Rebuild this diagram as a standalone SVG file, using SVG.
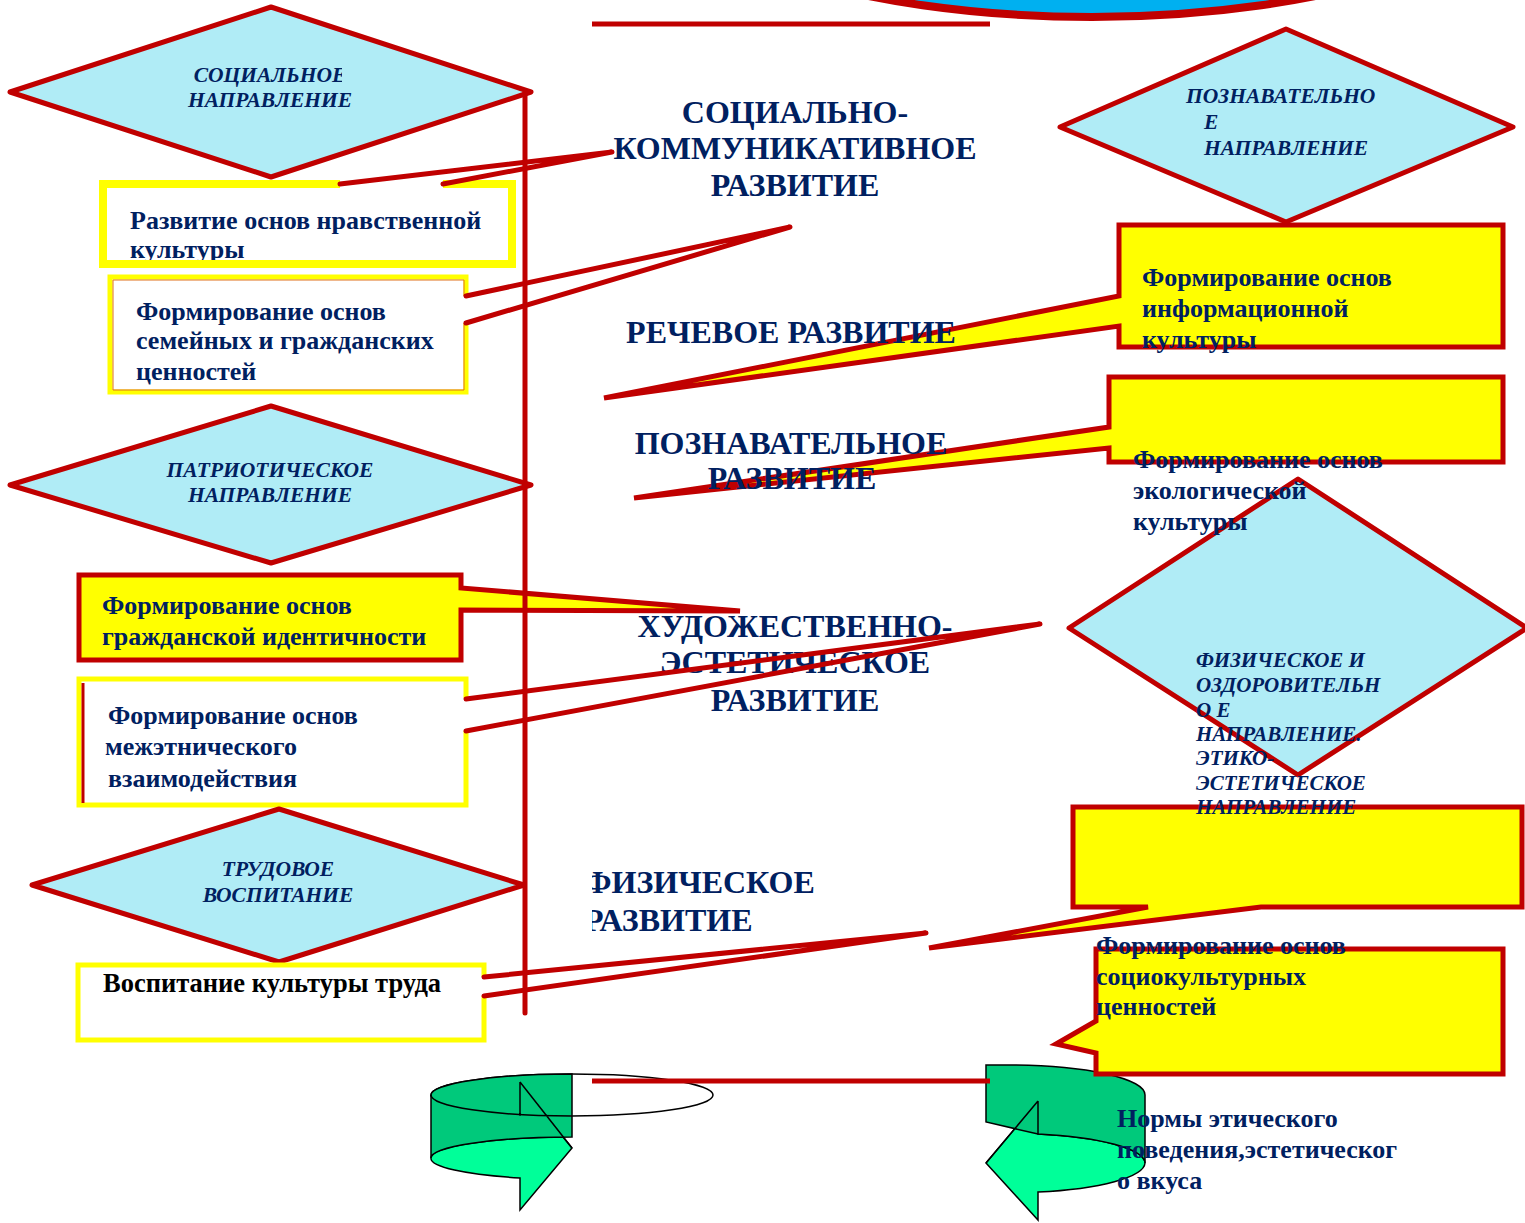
<svg xmlns="http://www.w3.org/2000/svg" width="1525" height="1223" viewBox="0 0 1525 1223">
<defs>
<style>
.dia{fill:#B0ECF6;stroke:#C00000;stroke-width:5;stroke-linejoin:round}
.yb{fill:#FFFF00;stroke:#C00000;stroke-width:5;stroke-linejoin:miter}
.wb{fill:#FFFFFF;stroke:#FFFF00;stroke-width:5;stroke-linejoin:miter}
.ln{fill:none;stroke:#C00000;stroke-width:5;stroke-linecap:round;stroke-linejoin:round}
.t{font-family:"Liberation Serif","Times New Roman",serif;font-weight:bold;fill:#002060;font-size:26px}
.h{font-size:32px;text-anchor:middle}
.di{font-style:italic;font-size:21.5px}
.dc{text-anchor:middle}
.g1{fill:#00C97B;stroke:#000;stroke-width:1.5}
.g2{fill:#00FF99;stroke:#000;stroke-width:1.5}
.bk{fill:none;stroke:#000;stroke-width:1.5}
</style>
<clipPath id="clipSoc"><rect x="150" y="55" width="192" height="35"/></clipPath>
<clipPath id="clipFiz"><rect x="592" y="850" width="400" height="100"/></clipPath>
</defs>
<rect width="1525" height="1223" fill="#FFFFFF"/>

<g id="top-ellipse">
<ellipse cx="1092" cy="-150" rx="460" ry="167" fill="#00B0F0" stroke="#C00000" stroke-width="8"/>
</g>

<!-- left side nodes -->
<g id="social-dir">
<polygon class="dia" points="10,92 271,7 531,92 271,177"/>
<text class="t di dc" x="270" y="82" clip-path="url(#clipSoc)">СОЦИАЛЬНОЕ</text>
<text class="t di dc" x="270" y="107">НАПРАВЛЕНИЕ</text>
</g>
<g id="box-moral">
<text class="t" x="130" y="229">Развитие основ нравственной</text>
<text class="t" x="130" y="258">культуры</text>
<path d="M340,184 L103,184 L103,264 L512,264 L512,184 L443,184" fill="none" stroke="#FFFF00" stroke-width="8"/>
</g>
<g id="box-family">
<path class="wb" d="M466,296 L466,277 L110,277 L110,392 L466,392 L466,323"/>
<path d="M464,296 L464,280 L113,280 L113,390 L464,390 L464,323" fill="none" stroke="#E0701A" stroke-width="1"/>
<text class="t" x="136" y="320">Формирование основ</text>
<text class="t" x="136" y="349">семейных и гражданских</text>
<text class="t" x="136" y="380">ценностей</text>
</g>
<g id="patriot-dir">
<polygon class="dia" points="10,485 271,406 531,485 271,563"/>
<text class="t di dc" x="270" y="477">ПАТРИОТИЧЕСКОЕ</text>
<text class="t di dc" x="270" y="502">НАПРАВЛЕНИЕ</text>
</g>
<g id="box-civic">
<path class="yb" d="M79,575 L461,575 L461,588 L740,611 L461,610 L461,660 L79,660 Z"/>
<text class="t" x="102" y="614">Формирование основ</text>
<text class="t" x="102" y="645">гражданской идентичности</text>
</g>
<g id="box-ethnic">
<path class="wb" d="M466,698 L466,679 L79,679 L79,805 L466,805 L466,731"/>
<line x1="83" y1="683" x2="83" y2="803" stroke="#C00000" stroke-width="3"/>
<text class="t" x="108" y="724">Формирование основ</text>
<text class="t" x="105" y="755">межэтнического</text>
<text class="t" x="108" y="787">взаимодействия</text>
</g>
<g id="labor-dir">
<polygon class="dia" points="32,885 279,809 524,885 279,962"/>
<text class="t di dc" x="278" y="876">ТРУДОВОЕ</text>
<text class="t di dc" x="278" y="902">ВОСПИТАНИЕ</text>
</g>
<g id="box-labor">
<path class="wb" d="M484,977 L484,965 L78,965 L78,1040 L484,1040 L484,996"/>
<text class="t" x="103" y="992" style="fill:#000000;font-size:26.5px">Воспитание культуры труда</text>
</g>

<!-- center headings under connectors -->
<g id="h-social">
<text class="t h" x="795" y="123">СОЦИАЛЬНО-</text>
<text class="t h" x="795" y="159">КОММУНИКАТИВНОЕ</text>
<text class="t h" x="795" y="196">РАЗВИТИЕ</text>
</g>
<g id="h-art">
<text class="t h" x="795" y="637">ХУДОЖЕСТВЕННО-</text>
<text class="t h" x="795" y="673">ЭСТЕТИЧЕСКОЕ</text>
<text class="t h" x="795" y="711">РАЗВИТИЕ</text>
</g>
<g id="h-phys" clip-path="url(#clipFiz)">
<text class="t" style="font-size:32px" x="584" y="893">ФИЗИЧЕСКОЕ</text>
<text class="t" style="font-size:32px" x="584" y="931">РАЗВИТИЕ</text>
</g>

<!-- bottom spirals -->
<g id="spiral-left">
<ellipse cx="572" cy="1095" rx="141" ry="21" fill="#FFFFFF" stroke="#000" stroke-width="1.5"/>
<path class="g2" d="M431,1158 A141,21 0 0 1 563,1137 L572,1148 L520,1210 L520,1178 A141,21 0 0 1 431,1158 Z"/>
<path class="g1" d="M431,1095 A141,21 0 0 1 572,1074 L572,1137 A141,21 0 0 0 431,1158 Z"/>
<path class="bk" d="M431,1095 A141,21 0 0 0 572,1116 M520,1082 L572,1148 M520,1082 L520,1116"/>
</g>
<g id="spiral-right">
<path class="g2" d="M1038,1134 A135,30 0 0 1 1145,1163 A135,30 0 0 1 1038,1192 L1038,1220 L986,1163 L1038,1101 Z"/>
<path class="g1" d="M986,1065 L1010,1065 A135,30 0 0 1 1145,1095 L1145,1163 A135,30 0 0 0 1038,1134 L986,1122 Z"/>
<path class="bk" d="M1038,1101 L986,1163 M1038,1101 L1038,1134"/>
</g>

<!-- connectors -->
<g id="connectors">
<line class="ln" x1="525" y1="93" x2="525" y2="1013"/>
<line class="ln" x1="592" y1="24" x2="990" y2="24" style="stroke-linecap:butt"/>
<line class="ln" x1="592" y1="1081" x2="990" y2="1081" style="stroke-linecap:butt"/>
<path class="ln" d="M340,184 L612,152 L443,184"/>
<path class="ln" d="M466,296 L790,227 L466,323"/>
<path class="ln" d="M466,699 L1040,624 L466,731"/>
<path class="ln" d="M484,977 L926,933 L484,996"/>
</g>

<!-- right side nodes -->
<g id="cogn-dir">
<polygon class="dia" points="1060,127 1286,29 1513,127 1286,222"/>
<text class="t di" x="1186" y="103">ПОЗНАВАТЕЛЬНО</text>
<text class="t di" x="1204" y="129">Е</text>
<text class="t di" x="1204" y="155">НАПРАВЛЕНИЕ</text>
</g>
<g id="box-info">
<path class="yb" d="M1119,225 L1503,225 L1503,347 L1119,347 L1119,326 L604,398 L1119,296 Z"/>
<text class="t" x="1142" y="286">Формирование основ</text>
<text class="t" x="1142" y="317">информационной</text>
<text class="t" x="1142" y="348">культуры</text>
</g>
<g id="box-social-cult">
<path class="yb" d="M1073,807 L1522,807 L1522,907 L1261,907 L929,948 L1148,907 L1073,907 Z"/>
</g>
<g id="phys-dir">
<polygon class="dia" points="1069,628 1298,479 1527,628 1298,775"/>
<text class="t di" style="font-size:21px" x="1196" y="667">ФИЗИЧЕСКОЕ И</text>
<text class="t di" style="font-size:21px" x="1196" y="692">ОЗДОРОВИТЕЛЬН</text>
<text class="t di" style="font-size:21px" x="1196" y="717">О Е</text>
<text class="t di" style="font-size:21px" x="1196" y="741">НАПРАВЛЕНИЕ.</text>
<text class="t di" style="font-size:21px" x="1196" y="765">ЭТИКО-</text>
<text class="t di" style="font-size:21px" x="1196" y="790">ЭСТЕТИЧЕСКОЕ</text>
<text class="t di" style="font-size:21px" x="1196" y="814">НАПРАВЛЕНИЕ</text>
</g>
<g id="box-eco">
<path class="yb" d="M1109,377 L1503,377 L1503,462 L1109,462 L1109,448 L634,498 L1109,427 Z"/>
<text class="t" x="1133" y="468">Формирование основ</text>
<text class="t" x="1133" y="499">экологической</text>
<text class="t" x="1133" y="530">культуры</text>
</g>
<g id="box-sociocult">
<path class="yb" d="M1096,949 L1503,949 L1503,1074 L1096,1074 L1096,1053 L1056,1044 L1096,1021 Z"/>
<text class="t" x="1096" y="954">Формирование основ</text>
<text class="t" x="1096" y="985">социокультурных</text>
<text class="t" x="1096" y="1015">ценностей</text>
</g>

<!-- headings drawn over the yellow callouts -->
<g id="h-speech">
<text class="t h" x="791" y="343">РЕЧЕВОЕ РАЗВИТИЕ</text>
</g>
<g id="h-cogn">
<text class="t h" x="791" y="454">ПОЗНАВАТЕЛЬНОЕ</text>
<text class="t h" x="792" y="489">РАЗВИТИЕ</text>
</g>

<g id="norms">
<text class="t" x="1117" y="1127">Нормы этического</text>
<text class="t" x="1117" y="1158">поведения,эстетическог</text>
<text class="t" x="1117" y="1189">о вкуса</text>
</g>
</svg>
